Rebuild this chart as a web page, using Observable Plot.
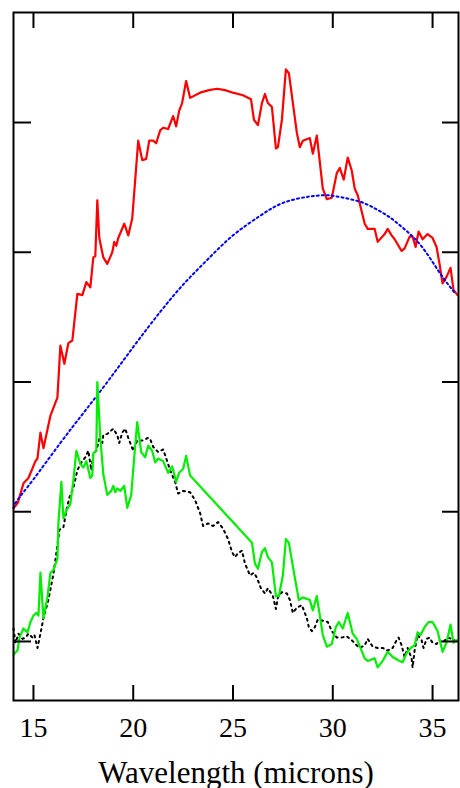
<!DOCTYPE html>
<html>
<head>
<meta charset="utf-8">
<script src="https://cdn.jsdelivr.net/npm/d3@7"></script>
<script src="https://cdn.jsdelivr.net/npm/@observablehq/plot@0.6"></script>
<style>
  html, body { margin: 0; padding: 0; background: #fff; color: #000; }
  #chart svg { display: block; }
</style>
</head>
<body>
<div id="chart"></div>
<script>
// Wavelength axis (microns)
const xTicks = [15, 20, 25, 30, 35];
const yTicks = [0, 1, 2, 3, 4];
const xLabel = "Wavelength (microns)";

// Observed spectrum (red) [wavelength, flux]
const observed = [
  [14.02,1.03],[14.22,1.07],[14.5,1.22],[14.75,1.26],[15.1,1.39],[15.2,1.41],[15.35,1.61],[15.5,1.49],
  [15.85,1.74],[16.2,1.88],[16.35,2.28],[16.55,2.14],[16.75,2.30],[16.95,2.32],[17.2,2.68],[17.45,2.67],
  [17.65,2.77],[17.85,2.73],[18.0,2.96],[18.1,2.97],[18.2,3.40],[18.3,3.11],[18.5,2.96],[18.7,2.91],
  [18.95,3.00],[19.05,3.08],[19.15,3.05],[19.25,3.11],[19.55,3.22],[19.75,3.13],[19.95,3.26],[20.25,3.86],
  [20.45,3.71],[20.65,3.72],[20.8,3.86],[21.0,3.86],[21.15,3.84],[21.35,3.94],[21.5,3.96],[21.75,3.95],
  [22.0,4.05],[22.15,3.97],[22.3,4.09],[22.45,4.15],[22.65,4.32],[22.85,4.19],[23.35,4.23],[23.8,4.25],
  [24.2,4.26],[24.6,4.25],[25.0,4.23],[25.5,4.21],[25.9,4.18],[26.05,4.02],[26.25,3.98],[26.45,4.15],
  [26.6,4.22],[26.75,4.15],[26.95,4.12],[27.15,3.80],[27.25,3.81],[27.45,4.02],[27.65,4.41],[27.8,4.38],
  [28.2,3.92],[28.35,3.81],[28.5,3.86],[28.85,3.88],[29.0,3.76],[29.2,3.90],[29.5,3.49],[29.7,3.41],
  [29.95,3.42],[30.2,3.61],[30.35,3.65],[30.55,3.56],[30.75,3.73],[30.95,3.63],[31.1,3.49],[31.25,3.44],
  [31.6,3.22],[31.75,3.18],[32.1,3.18],[32.25,3.08],[32.6,3.14],[32.75,3.18],[32.95,3.13],[33.1,3.10],
  [33.45,3.01],[33.6,3.03],[33.85,3.12],[34.0,3.12],[34.15,3.04],[34.3,3.16],[34.5,3.10],[34.75,3.14],
  [35.0,3.11],[35.2,3.04],[35.35,2.91],[35.5,2.76],[35.7,2.81],[35.9,2.88],[36.05,2.71],[36.25,2.67]
];

// Continuum model (blue dotted)
const continuum = [
  [14.0,1.03],[14.2,1.09],[15.0,1.25],[16.35,1.53],[17.6,1.78],[18.85,2.03],[20.1,2.29],[21.35,2.54],
  [22.5,2.75],[23.7,2.94],[25.0,3.13],[26.35,3.28],[27.5,3.38],[28.85,3.43],[29.7,3.44],[30.2,3.43],
  [31.35,3.39],[32.2,3.33],[32.85,3.27],[33.5,3.19],[34.2,3.09],[34.85,2.96],[35.5,2.81],[36.1,2.69]
];

// Residual, observed minus continuum (green)
const residual = [
  [14.0,-0.10],[14.2,-0.07],[14.3,0.03],[14.5,0.10],[14.7,0.07],[14.85,0.15],[15.0,0.20],[15.15,0.22],
  [15.25,0.20],[15.35,0.53],[15.5,0.18],[15.7,0.34],[15.85,0.53],[16.0,0.55],[16.2,0.64],[16.25,0.91],
  [16.4,1.23],[16.5,0.95],[16.65,1.01],[16.85,1.06],[17.0,1.24],[17.15,1.47],[17.35,1.37],[17.5,1.34],
  [17.65,1.39],[17.85,1.26],[17.95,1.28],[18.0,1.45],[18.15,1.47],[18.2,2.00],[18.35,1.57],[18.5,1.29],
  [18.7,1.13],[18.9,1.16],[19.0,1.20],[19.1,1.15],[19.2,1.18],[19.35,1.16],[19.55,1.20],[19.7,1.03],
  [19.9,1.13],[20.05,1.42],[20.2,1.69],[20.4,1.46],[20.6,1.42],[20.75,1.51],[20.95,1.47],[21.1,1.38],
  [21.25,1.41],[21.5,1.39],[21.75,1.30],[21.95,1.35],[22.15,1.23],[22.3,1.30],[22.5,1.33],[22.65,1.43],
  [22.85,1.28],[25.95,0.76],[26.1,0.60],[26.25,0.56],[26.45,0.69],[26.6,0.72],[26.75,0.65],[26.95,0.61],
  [27.15,0.35],[27.3,0.35],[27.5,0.51],[27.65,0.79],[27.8,0.76],[28.1,0.49],[28.3,0.32],[28.5,0.34],
  [28.85,0.32],[29.0,0.24],[29.2,0.35],[29.5,0.05],[29.7,-0.04],[29.95,-0.02],[30.15,0.11],[30.3,0.15],
  [30.5,0.10],[30.75,0.22],[31.0,0.06],[31.2,0.02],[31.6,-0.13],[31.75,-0.15],[32.1,-0.13],[32.25,-0.20],
  [32.5,-0.15],[32.75,-0.08],[33.0,-0.12],[33.35,-0.15],[33.5,-0.16],[33.7,-0.09],[33.9,-0.05],[34.1,-0.03],
  [34.25,0.07],[34.4,0.05],[34.6,0.11],[34.8,0.15],[35.0,0.15],[35.25,0.08],[35.5,-0.08],[35.7,-0.01],
  [35.9,0.13],[36.05,-0.01],[36.2,0.01]
];

// Reference template (black dotted)
const template = [
  [14.0,0.10],[14.1,-0.01],[14.25,0.06],[14.45,0.02],[14.6,0.03],[14.75,0.06],[14.95,0.03],[15.05,0.05],
  [15.2,-0.05],[15.35,0.06],[15.5,0.18],[15.75,0.32],[16.0,0.52],[16.2,0.74],[16.3,0.86],[16.5,0.88],
  [16.65,1.01],[16.8,1.11],[17.0,1.18],[17.2,1.32],[17.4,1.38],[17.6,1.42],[17.75,1.47],[17.9,1.32],
  [18.0,1.45],[18.15,1.47],[18.3,1.56],[18.45,1.53],[18.5,1.59],[18.7,1.60],[19.0,1.64],[19.2,1.59],
  [19.3,1.53],[19.45,1.61],[19.6,1.64],[19.75,1.57],[20.0,1.47],[20.2,1.55],[20.5,1.55],[20.75,1.57],
  [20.85,1.56],[21.0,1.50],[21.25,1.46],[21.5,1.48],[21.7,1.39],[21.85,1.32],[22.1,1.23],[22.25,1.14],
  [22.5,1.16],[22.85,1.15],[23.1,1.09],[23.35,0.99],[23.5,0.89],[23.75,0.91],[24.0,0.89],[24.25,0.92],
  [24.5,0.87],[24.75,0.79],[24.95,0.69],[25.1,0.65],[25.25,0.68],[25.45,0.70],[25.6,0.60],[25.85,0.51],
  [26.05,0.53],[26.2,0.49],[26.4,0.41],[26.6,0.37],[26.75,0.41],[27.0,0.35],[27.15,0.25],[27.25,0.34],
  [27.45,0.38],[27.7,0.37],[27.85,0.32],[28.0,0.22],[28.2,0.26],[28.45,0.28],[28.7,0.18],[28.8,0.11],
  [28.95,0.08],[29.1,0.11],[29.25,0.17],[29.5,0.16],[29.75,0.15],[29.95,0.08],[30.2,0.03],[30.45,0.03],
  [30.7,0.04],[30.95,0.01],[31.2,-0.03],[31.35,-0.05],[31.6,-0.03],[31.75,0.02],[32.0,-0.04],[32.25,-0.05],
  [32.5,-0.05],[32.75,-0.07],[33.0,-0.05],[33.2,0.01],[33.3,0.03],[33.45,-0.03],[33.6,-0.12],[33.75,-0.05],
  [33.95,-0.13],[34.0,-0.20],[34.1,-0.07],[34.25,0.05],[34.45,0.01],[34.55,-0.05],[34.7,0.02],[34.85,0.03],
  [35.0,-0.01],[35.2,-0.02],[35.35,0.01],[35.5,-0.01],[35.75,0.03],[35.95,0.02],[36.2,0.00]
];

const font = "'Liberation Serif', 'DejaVu Serif', serif";

const chart = Plot.plot({
  width: 460,
  height: 788,
  marginLeft: 13,
  marginRight: 2,
  marginTop: 12,
  marginBottom: 88,
  style: { fontFamily: font, fontSize: "28px", color: "#000", background: "#fff", overflow: "visible" },
  x: { domain: [14, 36.3] },
  y: { domain: [-0.455, 4.848] },
  marks: [
    Plot.line(observed, { x: d => d[0], y: d => d[1], stroke: "#ff0000", strokeWidth: 2.2 }),
    Plot.line(continuum, { x: d => d[0], y: d => d[1], stroke: "#0000ff", strokeWidth: 2, strokeDasharray: "2,3", curve: "natural" }),
    Plot.line(template, { x: d => d[0], y: d => d[1], stroke: "#000000", strokeWidth: 2, strokeDasharray: "2,4" }),
    Plot.line(residual, { x: d => d[0], y: d => d[1], stroke: "#00ee00", strokeWidth: 2.2 }),
    // inward ticks on all four sides
    Plot.axisX(xTicks, { anchor: "top", frameAnchor: "bottom", tickSize: 16, strokeWidth: 2, fill: "none", label: null }),
    Plot.axisX(xTicks, { anchor: "bottom", frameAnchor: "top", tickSize: 16, strokeWidth: 2, fill: "none", label: null }),
    Plot.axisY(yTicks, { anchor: "right", frameAnchor: "left", tickSize: 17, strokeWidth: 2, fill: "none", label: null }),
    Plot.axisY(yTicks, { anchor: "left", frameAnchor: "right", tickSize: 16, strokeWidth: 2, fill: "none", label: null }),
    // tick labels
    Plot.axisX(xTicks, { anchor: "bottom", tickSize: 0, tickPadding: 17, fontSize: 28, label: null }),
    // axis title
    Plot.axisX(xTicks, { anchor: "bottom", tickSize: 0, tickFormat: () => "", label: xLabel, labelAnchor: "center", labelOffset: 82, labelArrow: "none", fontSize: 31 }),
    Plot.frame({ stroke: "#000", strokeWidth: 2 })
  ]
});
document.getElementById("chart").appendChild(chart);
</script>
</body>
</html>
